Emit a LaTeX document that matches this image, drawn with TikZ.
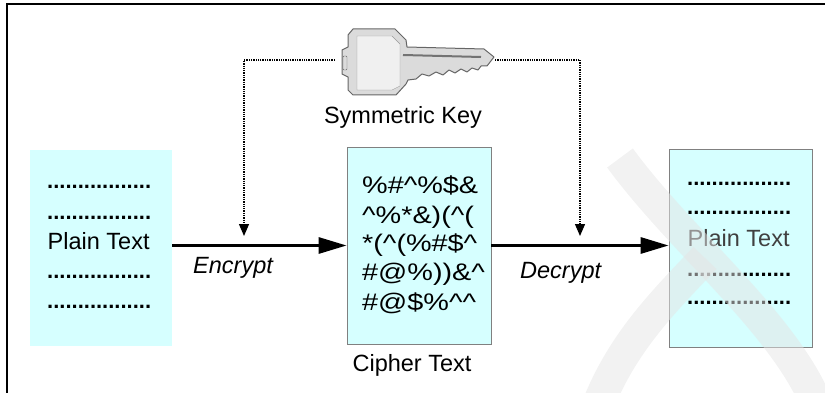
\documentclass[tikz,border=0pt]{standalone}
\usepackage{fontspec}
\setmainfont{Liberation Sans}
\usepackage{tikz}
\usetikzlibrary{arrows.meta,positioning}
\definecolor{pagecyan}{RGB}{214,255,255}
\newcommand{\wide}[1]{\scalebox{1.2}[1]{#1}}
\tikzset{
  docbox/.style   ={rectangle,fill=pagecyan,inner sep=0pt},
  framed/.style   ={draw=black!50,line width=0.8pt},
  txt/.style      ={font=\fontsize{23.5}{28}\selectfont,inner sep=0pt},
  scramble/.style ={font=\fontsize{24}{29}\selectfont,inner sep=0pt,anchor=base west},
  leader/.style   ={font=\fontsize{22}{26}\selectfont\bfseries,inner sep=0pt,anchor=base west},
  flow/.style     ={line width=3pt,-{Triangle[length=28pt,width=16pt]}},
  keylink/.style  ={line width=1.3pt,dash pattern=on 1.3pt off 1pt,-{Triangle[length=12pt,width=10pt]}},
  keybody/.style  ={fill=black!14,draw=black!60,line width=1pt,line join=round},
  watermark/.style={line width=32pt,black!10,opacity=0.5},
}
\begin{document}
\begin{tikzpicture}[x=1pt,y=-1pt]
  \useasboundingbox (0,0) rectangle (825,393);
  \draw[line width=2pt] (825,4.5) -| (7,393);

  % the three pages
  \node[docbox,minimum width=142pt,minimum height=196pt] (plain) at (101,248) {};
  \node[docbox,framed,minimum width=144pt,minimum height=197pt] (cipher) at (419,245.5) {};
  \node[docbox,framed,minimum width=143pt,minimum height=198pt] (recv) at (740.5,248) {};

  \foreach \y [count=\i] in {188.5,219.5,278.5,308.5}{
     \node[leader] (pdots\i) at (47,\y) {.................};
  }
  \node[txt,anchor=base west] (plainlbl) at (47.5,249) {Plain Text};

  \foreach \y/\s [count=\i] in {193.5/{\%\#\textasciicircum\%\$\&},
                                223.5/{\textasciicircum\%*\&)(\textasciicircum(},
                                251.5/{*(\textasciicircum(\%\#\$\textasciicircum},
                                280.5/{\#@\%))\&\textasciicircum},
                                310.5/{\#@\$\%\textasciicircum\textasciicircum}}{
     \node[scramble] (ct\i) at (362,\y) {\wide{\s}};
  }
  \node[txt,anchor=base] (ctlbl) at (412,371) {Cipher Text};

  \foreach \y [count=\i] in {185.5,214.5,276.5,304.5}{
     \node[leader] (rdots\i) at (687,\y) {.................};
  }
  \node[txt,anchor=base west,black!75] (recvlbl) at (687.5,246) {Plain Text};

  % encrypt / decrypt
  \draw[flow] (plain.east |- cipher.west) -- (cipher.west);
  \draw[flow] (cipher.east) -- (cipher.east -| recv.west);
  \node[txt,anchor=base west] (enc) at (193,273) {\itshape Encrypt};
  \node[txt,anchor=base west] (dec) at (520,278) {\itshape Decrypt};

  % the key
  \draw[keybody] (348,35) -- (353,29) -- (395,29) -- (406,40) -- (407,47) -- (484,49)
     -- (494,57) -- (487,66) -- (481,66) -- (478,70) -- (472,68) -- (467,72) -- (461,69)
     -- (455,73) -- (449,70) -- (443,75) -- (436,72) -- (429,76) -- (422,74) -- (416,79)
     -- (408,80) -- (406,84) -- (396,95) -- (353,95) -- (348,90) -- (348,77) -- (342,74)
     -- (342,50) -- (348,47) -- cycle;
  \draw[fill=black!6,draw=black!40] (357,36) -- (392,36) -- (400,44) -- (400,86)
     -- (392,90) -- (357,90) -- cycle;
  \draw[black!55,line width=2pt] (403,55) -- (481,57);
  \draw[black!60,rounded corners=1pt] (343,56) rectangle (347,70);
  \node[txt,anchor=base] (keylbl) at (403,124) {Symmetric Key};

  \coordinate (keyL) at (335,60);
  \coordinate (keyR) at (495,60);
  \coordinate (encIn) at (244,236);
  \coordinate (decIn) at (580,236);
  \draw[keylink] (keyL) -| (encIn);
  \draw[keylink] (keyR) -| (decIn);

  % faint background mark
  \draw[watermark] (620,158) .. controls (680,240) and (780,320) .. (815,400);
  \draw[watermark] (705,258) .. controls (665,300) and (625,340) .. (600,400);
\end{tikzpicture}
\end{document}
